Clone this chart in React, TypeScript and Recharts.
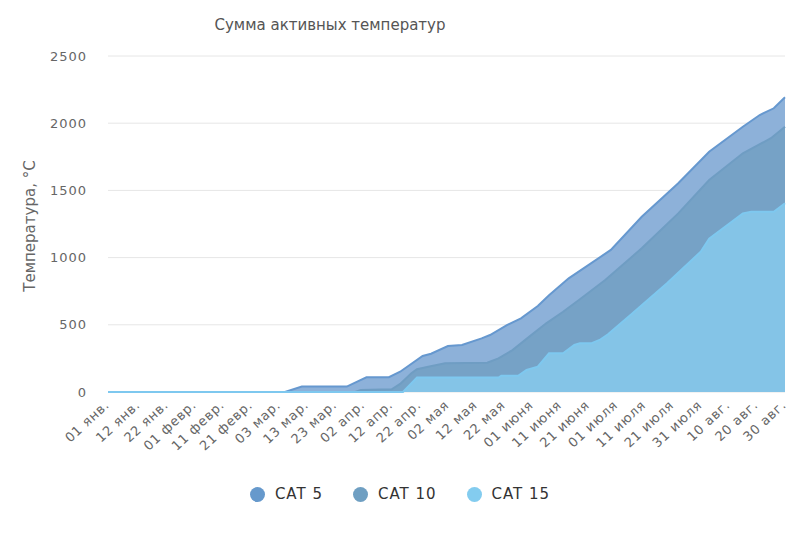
import { AreaChart, Area, XAxis, YAxis, CartesianGrid, Legend } from "recharts";

const FONT = "'DejaVu Sans', Verdana, sans-serif";

// day index counted from 01 Jan (0) to 30 Aug (241)
const DAY_TICKS = [0, 11, 21, 31, 41, 51, 61, 71, 81, 91, 101, 111, 121, 131, 141, 151, 161, 171, 181, 191, 201, 211, 221, 231, 241];
const TICK_LABELS = [
  "01 янв.", "12 янв.", "22 янв.", "01 февр.", "11 февр.", "21 февр.", "03 мар.", "13 мар.", "23 мар.",
  "02 апр.", "12 апр.", "22 апр.", "02 мая", "12 мая", "22 мая", "01 июня", "11 июня", "21 июня",
  "01 июля", "11 июля", "21 июля", "31 июля", "10 авг.", "20 авг.", "30 авг.",
];
const Y_TICKS = [0, 500, 1000, 1500, 2000, 2500];

const CAT5_DAYS = [0, 63, 69, 85, 92, 100, 104, 112, 115, 121, 126, 133, 136, 142, 147, 153, 157, 164, 179, 190, 203, 214, 226, 232, 237, 241];
const CAT5 = [0, 0, 40, 40, 109, 110, 151, 268, 285, 342, 350, 399, 424, 498, 548, 640, 720, 846, 1057, 1304, 1553, 1788, 1974, 2061, 2111, 2193];

const CAT10_DAYS = [0, 88, 90, 101, 104, 108, 110, 114, 120, 135, 139, 144, 150, 156, 162, 168, 177, 190, 203, 214, 226, 236, 241];
const CAT10 = [0, 0, 15, 20, 60, 140, 170, 188, 213, 218, 250, 312, 412, 511, 597, 690, 833, 1069, 1329, 1577, 1776, 1888, 1974];

const CAT15_DAYS = [0, 105, 110, 139, 140, 146, 149, 153, 157, 162, 166, 168, 172, 175, 178, 186, 199, 211, 214, 226, 229, 237, 241];
const CAT15 = [0, 0, 107, 107, 121, 121, 164, 188, 288, 288, 350, 362, 362, 387, 430, 573, 809, 1044, 1140, 1329, 1341, 1341, 1404];

const SERIES = [
  { key: "cat5", name: "CAT 5", fill: "#8db1d9", stroke: "#6698cf", marker: "#6699cc" },
  { key: "cat10", name: "CAT 10", fill: "#76a2c6", stroke: "#6f9dc3", marker: "#6f9fc2" },
  { key: "cat15", name: "CAT 15", fill: "#84c4e7", stroke: "#7ec8ef", marker: "#83ccef" },
];

// merged table: one row per day that any series has a reading for
function buildData() {
  const rows = new Map<number, any>();
  const put = (days: number[], vals: number[], key: string) => {
    days.forEach((d, i) => {
      if (!rows.has(d)) rows.set(d, { day: d, cat5: null, cat10: null, cat15: null });
      rows.get(d)[key] = vals[i];
    });
  };
  put(CAT5_DAYS, CAT5, "cat5");
  put(CAT10_DAYS, CAT10, "cat10");
  put(CAT15_DAYS, CAT15, "cat15");
  return Array.from(rows.values()).sort((a, b) => a.day - b.day);
}

const data = buildData();

function DateTick(props: any) {
  const { x, y, payload } = props;
  const label = TICK_LABELS[DAY_TICKS.indexOf(payload.value)];
  const tx = x + 2;
  const ty = y + 6;
  return (
    <text
      x={tx}
      y={ty}
      transform={`rotate(-43 ${tx} ${ty})`}
      textAnchor="end"
      fontSize={13}
      fill="#666"
      fontFamily={FONT}
      letterSpacing={0.8}
    >
      {label}
    </text>
  );
}

function YTitle() {
  return (
    <text
      x={35}
      y={226}
      transform="rotate(-90 35 226)"
      textAnchor="middle"
      fontSize={15}
      fill="#666"
      fontFamily={FONT}
    >
      Температура, °C
    </text>
  );
}

function LegendRow() {
  return (
    <div style={{ display: "flex", justifyContent: "center", alignItems: "center", gap: 30, fontFamily: FONT }}>
      {SERIES.map((s) => (
        <div key={s.key} style={{ display: "flex", alignItems: "center" }}>
          <span
            style={{ width: 15, height: 15, borderRadius: "50%", background: s.marker, display: "inline-block", marginRight: 10 }}
          />
          <span style={{ fontSize: 15, color: "#333", letterSpacing: 1 }}>{s.name}</span>
        </div>
      ))}
    </div>
  );
}

export default function App() {
  return (
    <div style={{ position: "absolute", left: 0, top: 0, width: 800, height: 533, background: "#fff" }}>
      <div
        style={{
          position: "absolute",
          left: 0,
          top: 16,
          width: 660,
          textAlign: "center",
          fontFamily: FONT,
          fontSize: 15,
          color: "#555",
        }}
      >
        Сумма активных температур
      </div>
      <AreaChart width={800} height={533} data={data} margin={{ top: 56, right: 15, left: 0, bottom: 0 }}>
        <CartesianGrid vertical={false} stroke="#e6e6e6" />
        <XAxis
          dataKey="day"
          type="number"
          domain={[0, 241]}
          ticks={DAY_TICKS}
          interval={0}
          tickLine={false}
          axisLine={false}
          height={141}
          tick={<DateTick />}
        />
        <YAxis
          domain={[0, 2500]}
          ticks={Y_TICKS}
          width={108}
          tickLine={false}
          axisLine={false}
          tickSize={0}
          tickMargin={21}
          tick={{ fontSize: 13, fill: "#666", fontFamily: FONT, letterSpacing: 1 }}
          label={<YTitle />}
        />
        {SERIES.map((s) => (
          <Area
            key={s.key}
            type="linear"
            dataKey={s.key}
            name={s.name}
            fill={s.fill}
            fillOpacity={1}
            stroke={s.stroke}
            strokeWidth={2}
            dot={false}
            activeDot={false}
            connectNulls
            isAnimationActive={false}
          />
        ))}
        <Legend
          layout="horizontal"
          verticalAlign="middle"
          align="center"
          wrapperStyle={{ top: 485, left: 0, width: 800, height: 24 }}
          content={() => <LegendRow />}
        />
      </AreaChart>
    </div>
  );
}
